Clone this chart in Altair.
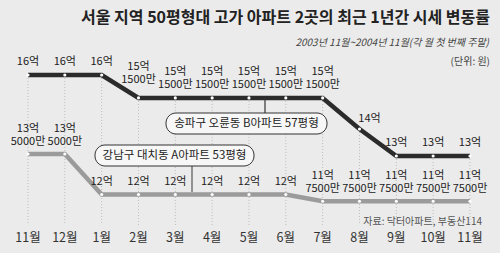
import altair as alt
import pandas as pd

# ---- data ----
months = ["11월", "12월", "1월", "2월", "3월", "4월", "5월", "6월", "7월", "8월", "9월", "10월", "11월"]
upper_values = [16, 16, 16, 15.15, 15.15, 15.15, 15.15, 15.15, 15.15, 14, 13, 13, 13]
upper_labels = ["16억", "16억", "16억", "15억\n1500만", "15억\n1500만", "15억\n1500만", "15억\n1500만",
                "15억\n1500만", "15억\n1500만", "14억", "13억", "13억", "13억"]
lower_values = [13.5, 13.5, 12, 12, 12, 12, 12, 12, 11.75, 11.75, 11.75, 11.75, 11.75]
lower_labels = ["13억\n5000만", "13억\n5000만", "12억", "12억", "12억", "12억", "12억", "12억",
                "11억\n7500만", "11억\n7500만", "11억\n7500만", "11억\n7500만", "11억\n7500만"]
upper_name = "송파구 오륜동 B아파트 57평형"
lower_name = "강남구 대치동 A아파트 53평형"
title = "서울 지역 50평형대 고가 아파트 2곳의 최근 1년간 시세 변동률"
subtitle = "2003년 11월~2004년 11월(각 월 첫 번째 주말)"
unit = "(단위: 원)"
source = "자료: 닥터아파트, 부동산114"


def top_part(s):
    p = s.split("\n")
    return p[0] if len(p) > 1 else ""


def bottom_part(s):
    return s.split("\n")[-1]


df = pd.DataFrame({
    "i": list(range(len(months))),
    "month": months,
    "upper": upper_values,
    "u_top": [top_part(s) for s in upper_labels],
    "u_bot": [bottom_part(s) for s in upper_labels],
    "lower": lower_values,
    "l_top": [top_part(s) for s in lower_labels],
    "l_bot": [bottom_part(s) for s in lower_labels],
})

FONT = "Noto Sans CJK KR"
W, H = 500, 253
xs = alt.Scale(domain=[-0.760, 12.815], nice=False, zero=False)
ys = alt.Scale(domain=[9.407, 18.778], nice=False, zero=False)
LOW_OFF = 11.5
LH = 13

base = alt.Chart(df)
X = alt.X("i:Q", scale=xs, axis=None)
YU = alt.Y("upper:Q", scale=ys, axis=None)
YL = alt.Y("lower:Q", scale=ys, axis=None)

grid = base.mark_rule(color="#bcbcbc", strokeDash=[1, 2], strokeWidth=1).encode(
    x=X, y=YU, y2=alt.value(225))

upper_line = base.mark_line(color="#2b2b2b", strokeWidth=4.5).encode(x=X, y=YU)
lower_line = base.mark_line(color="#9b9b9b", strokeWidth=4.5, yOffset=LOW_OFF).encode(x=X, y=YL)

upper_dots = base.mark_circle(color="white", opacity=1, size=10).encode(x=X, y=YU)
lower_dots = base.mark_circle(color="white", opacity=1, size=10, yOffset=LOW_OFF).encode(x=X, y=YL)

lbl = dict(font=FONT, fontSize=11, color="#222", baseline="bottom", align="center")


def label_layers(field_top, field_bot, Y, flt, dy, dx=0):
    b = base.transform_filter(flt)
    bot = b.mark_text(dy=dy, dx=dx, **lbl).encode(x=X, y=Y, text=f"{field_bot}:N")
    top = b.mark_text(dy=dy - LH, dx=dx, **lbl).encode(x=X, y=Y, text=f"{field_top}:N")
    return [bot, top]


texts = []
texts += label_layers("u_top", "u_bot", YU, "datum.i != 3 && datum.i != 9", -8)
texts += label_layers("u_top", "u_bot", YU, "datum.i == 3", -13)
texts += label_layers("u_top", "u_bot", YU, "datum.i == 9", -5, 10)
texts += label_layers("l_top", "l_bot", YL, "true", -7 + LOW_OFF)

month_text = base.mark_text(font=FONT, fontSize=12.5, color="#333", baseline="middle").encode(
    x=X, y=alt.value(238), text="month:N")

one = alt.Chart(pd.DataFrame({"a": [0]}))

box_u = one.mark_rect(cornerRadius=10, fill="#f7f7f7", stroke="#333", strokeWidth=1).encode(
    x=alt.value(166), x2=alt.value(327), y=alt.value(113), y2=alt.value(134))
conn_u = one.mark_rule(color="#333", strokeWidth=1.2).encode(
    x=alt.value(265), y=alt.value(98), y2=alt.value(113))
box_u_t = one.mark_text(font=FONT, fontSize=11.5, color="#222", baseline="middle").encode(
    x=alt.value(246.5), y=alt.value(124), text=alt.value(upper_name))

box_l = one.mark_rect(cornerRadius=10, fill="#f7f7f7", stroke="#333", strokeWidth=1).encode(
    x=alt.value(95), x2=alt.value(254), y=alt.value(145), y2=alt.value(166))
conn_l = one.mark_rule(color="#555", strokeWidth=1.2).encode(
    x=alt.value(192), y=alt.value(166), y2=alt.value(192))
box_l_t = one.mark_text(font=FONT, fontSize=11.5, color="#222", baseline="middle").encode(
    x=alt.value(174.5), y=alt.value(155.5), text=alt.value(lower_name))

title_t = one.mark_text(font=FONT, fontSize=16, fontWeight="bold", color="#222",
                        align="right", baseline="middle").encode(
    x=alt.value(490), y=alt.value(18), text=alt.value(title))
sub_t = one.mark_text(font=FONT, fontSize=10, fontStyle="italic", color="#444",
                      align="right", baseline="middle").encode(
    x=alt.value(489), y=alt.value(43), text=alt.value(subtitle))
unit_t = one.mark_text(font=FONT, fontSize=10, color="#444", align="right", baseline="middle").encode(
    x=alt.value(490), y=alt.value(62), text=alt.value(unit))
src_t = one.mark_text(font=FONT, fontSize=10, color="#555", align="right", baseline="middle").encode(
    x=alt.value(482), y=alt.value(222), text=alt.value(source))

chart = alt.layer(
    grid, lower_line, upper_line, lower_dots, upper_dots,
    *texts, month_text,
    conn_u, box_u, box_u_t, conn_l, box_l, box_l_t,
    title_t, sub_t, unit_t, src_t,
).properties(
    width=W, height=H, padding=0, autosize="none", background="#ebebeb"
).configure_view(stroke=None)

chart.save("out.html", embed_options={"renderer": "svg", "actions": False})
